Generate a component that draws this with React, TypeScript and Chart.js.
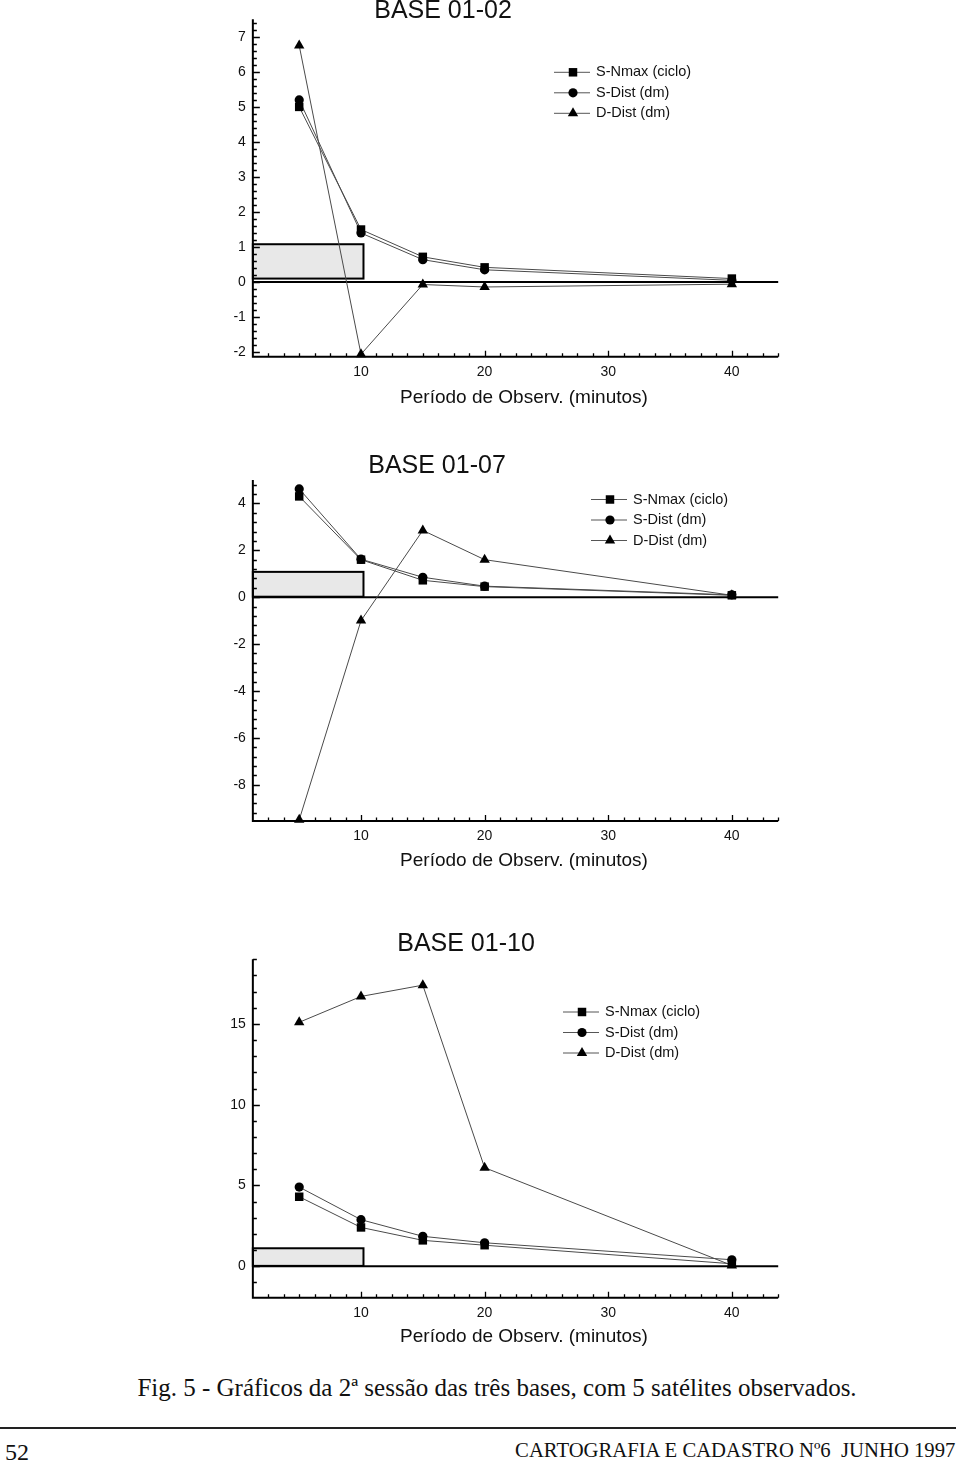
import React, { useEffect, useRef } from 'react';
import { Chart, registerables } from 'chart.js';

Chart.register(...registerables);

// ---------- data ----------
const X_MINUTES = [5, 10, 15, 20, 40];
const X_TICK_LABELS = [10, 20, 30, 40];
const SERIES_NAMES = ['S-Nmax (ciclo)', 'S-Dist (dm)', 'D-Dist (dm)'];
const BOX_X_RANGE = [1.25, 10.2];

const B0102_TITLE = 'BASE 01-02';
const B0102_SNMAX = [5.0, 1.5, 0.72, 0.42, 0.1];
const B0102_SDIST = [5.2, 1.4, 0.64, 0.35, 0.05];
const B0102_DDIST = [6.75, -2.06, -0.07, -0.14, -0.06];
const B0102_Y_TICKS = [-2, -1, 0, 1, 2, 3, 4, 5, 6, 7];
const B0102_BOX_Y = [0.1, 1.08];

const B0107_TITLE = 'BASE 01-07';
const B0107_SNMAX = [4.3, 1.6, 0.72, 0.45, 0.08];
const B0107_SDIST = [4.62, 1.62, 0.85, 0.47, 0.1];
const B0107_DDIST = [-9.5, -1.0, 2.85, 1.6, 0.08];
const B0107_Y_TICKS = [-8, -6, -4, -2, 0, 2, 4];
const B0107_BOX_Y = [0.02, 1.08];

const B0110_TITLE = 'BASE 01-10';
const B0110_SNMAX = [4.3, 2.4, 1.6, 1.3, 0.15];
const B0110_SDIST = [4.9, 2.88, 1.85, 1.45, 0.4];
const B0110_DDIST = [15.1, 16.7, 17.4, 6.1, 0.05];
const B0110_Y_TICKS = [0, 5, 10, 15];
const B0110_BOX_Y = [0.02, 1.11];

const X_AXIS_TITLE = 'Período de Observ. (minutos)';
const CAPTION = 'Fig. 5 - Gráficos da 2ª sessão das três bases, com 5 satélites observados.';
const PAGE_NUMBER = '52';
const FOOTER = 'CARTOGRAFIA E CADASTRO Nº6  JUNHO 1997';

// ---------- layout (page coordinates) ----------
const SANS = '"Liberation Sans", Arial, Helvetica, sans-serif';
const SERIF = '"Liberation Serif", "Times New Roman", serif';
const AREA_LEFT = 252.85;
const AREA_RIGHT = 778.2;
const MARKERS = ['rect', 'circle', 'triangle'];
const MARKER_RADIUS = [6, 4.6, 6];

type Spec = {
  title: string;
  series: number[][];
  yTicks: number[];
  boxY: number[];
  yMin: number;
  yMax: number;
  yMajor: number;
  yMinor: number;
  top: number;
  height: number;
  areaTop: number;
  areaBottom: number;
  titleX: number;
  titleY: number;
  legendX: number;
  legendY: number;
  legendDy: number;
  xTitleY: number;
};

const SPECS: Spec[] = [
  {
    title: B0102_TITLE,
    series: [B0102_SNMAX, B0102_SDIST, B0102_DDIST],
    yTicks: B0102_Y_TICKS,
    boxY: B0102_BOX_Y,
    yMin: -2.13, yMax: 7.5, yMajor: 1, yMinor: 0.2,
    top: 0, height: 420, areaTop: 19.3, areaBottom: 356.7,
    titleX: 443, titleY: 11,
    legendX: 573, legendY: 72.3, legendDy: 20.5,
    xTitleY: 398,
  },
  {
    title: B0107_TITLE,
    series: [B0107_SNMAX, B0107_SDIST, B0107_DDIST],
    yTicks: B0107_Y_TICKS,
    boxY: B0107_BOX_Y,
    yMin: -9.55, yMax: 5.0, yMajor: 2, yMinor: 0.4,
    top: 430, height: 450, areaTop: 480, areaBottom: 821,
    titleX: 437, titleY: 466,
    legendX: 610, legendY: 499.5, legendDy: 20.5,
    xTitleY: 861,
  },
  {
    title: B0110_TITLE,
    series: [B0110_SNMAX, B0110_SDIST, B0110_DDIST],
    yTicks: B0110_Y_TICKS,
    boxY: B0110_BOX_Y,
    yMin: -1.95, yMax: 19, yMajor: 5, yMinor: 1,
    top: 910, height: 450, areaTop: 959.3, areaBottom: 1297.7,
    titleX: 466, titleY: 944,
    legendX: 582, legendY: 1012, legendDy: 20.5,
    xTitleY: 1337,
  },
];

function drawMarker(ctx: CanvasRenderingContext2D, kind: string, x: number, y: number, r: number) {
  ctx.beginPath();
  if (kind === 'rect') {
    const s = r * Math.SQRT1_2;
    ctx.rect(x - s, y - s, 2 * s, 2 * s);
  } else if (kind === 'circle') {
    ctx.arc(x, y, r, 0, Math.PI * 2);
  } else {
    for (let k = 0; k < 3; k++) {
      const a = (k * 2 * Math.PI) / 3;
      const px = x + Math.sin(a) * r;
      const py = y - Math.cos(a) * r;
      if (k === 0) ctx.moveTo(px, py);
      else ctx.lineTo(px, py);
    }
    ctx.closePath();
  }
  ctx.fill();
}

function isMultiple(v: number, step: number) {
  const q = v / step;
  return Math.abs(q - Math.round(q)) < 1e-6;
}

function makePlugin(spec: Spec) {
  return {
    id: 'paperDecor',
    beforeDatasetsDraw(chart: any) {
      const { ctx, chartArea: a, scales } = chart;
      const xs = scales.x;
      const ys = scales.y;
      ctx.save();
      // shaded box
      const bx0 = xs.getPixelForValue(BOX_X_RANGE[0]);
      const bx1 = xs.getPixelForValue(BOX_X_RANGE[1]);
      const by0 = ys.getPixelForValue(spec.boxY[0]);
      const by1 = ys.getPixelForValue(spec.boxY[1]);
      ctx.fillStyle = '#e8e8e8';
      ctx.fillRect(bx0, by1, bx1 - bx0, by0 - by1);
      ctx.strokeStyle = '#000';
      ctx.lineWidth = 2;
      ctx.strokeRect(bx0, by1, bx1 - bx0, by0 - by1);
      // zero line
      const z = ys.getPixelForValue(0);
      ctx.beginPath();
      ctx.moveTo(a.left, z);
      ctx.lineTo(a.right, z);
      ctx.stroke();
      // axes lines
      ctx.lineWidth = 2;
      ctx.beginPath();
      ctx.moveTo(a.left, a.top);
      ctx.lineTo(a.left, a.bottom);
      ctx.lineTo(a.right, a.bottom);
      ctx.stroke();
      // y ticks (inward)
      ctx.lineWidth = 1.3;
      ctx.beginPath();
      const yStart = Math.ceil(spec.yMin / spec.yMinor - 1e-9) * spec.yMinor;
      for (let v = yStart; v <= spec.yMax + 1e-9; v += spec.yMinor) {
        const p = Math.round(ys.getPixelForValue(v)) + 0.5;
        const len = isMultiple(v, spec.yMajor) ? 7 : 4;
        ctx.moveTo(a.left, p);
        ctx.lineTo(a.left + len, p);
      }
      // x ticks (inward)
      for (let v = 2.5; v <= 43.75 + 1e-9; v += 1.25) {
        const p = Math.round(xs.getPixelForValue(v)) + 0.5;
        const len = isMultiple(v, 10) ? 6 : 3.5;
        ctx.moveTo(p, a.bottom);
        ctx.lineTo(p, a.bottom - len);
      }
      ctx.stroke();
      ctx.restore();
    },
    afterDraw(chart: any) {
      const { ctx } = chart;
      const off = spec.top;
      ctx.save();
      ctx.fillStyle = '#111';
      ctx.textBaseline = 'middle';
      // title
      ctx.font = `25px ${SANS}`;
      ctx.textAlign = 'center';
      ctx.fillText(spec.title, spec.titleX, spec.titleY - off);
      // x axis title
      ctx.font = `19px ${SANS}`;
      ctx.fillText(X_AXIS_TITLE, 524, spec.xTitleY - off);
      // legend
      ctx.textAlign = 'left';
      ctx.font = `14.5px ${SANS}`;
      SERIES_NAMES.forEach((name, i) => {
        const ly = spec.legendY + i * spec.legendDy - off;
        ctx.strokeStyle = '#555';
        ctx.lineWidth = 1;
        ctx.beginPath();
        ctx.moveTo(spec.legendX - 19, ly);
        ctx.lineTo(spec.legendX + 17, ly);
        ctx.stroke();
        ctx.fillStyle = '#000';
        drawMarker(ctx, MARKERS[i], spec.legendX, ly, MARKER_RADIUS[i]);
        ctx.fillStyle = '#111';
        ctx.fillText(name, spec.legendX + 23, ly);
      });
      ctx.restore();
    },
  };
}

function BaseChart({ spec }: { spec: Spec }) {
  const ref = useRef<HTMLCanvasElement>(null);
  useEffect(() => {
    const canvas = ref.current!;
    const xAxisHeight = spec.top + spec.height - spec.areaBottom;
    const chart = new Chart(canvas, {
      type: 'line',
      data: {
        datasets: spec.series.map((vals, i) => ({
          label: SERIES_NAMES[i],
          data: X_MINUTES.map((x, k) => ({ x, y: vals[k] })),
          borderColor: '#4a4a4a',
          borderWidth: 1,
          pointStyle: MARKERS[i] as any,
          pointRadius: MARKER_RADIUS[i],
          pointBackgroundColor: '#000',
          pointBorderColor: '#000',
          pointBorderWidth: 0,
          tension: 0,
          clip: false as any,
        })),
      },
      options: {
        animation: false,
        responsive: false,
        maintainAspectRatio: false,
        events: [],
        layout: {
          padding: { top: spec.areaTop - spec.top, left: 0, right: 960 - AREA_RIGHT, bottom: 0 },
        },
        plugins: {
          legend: { display: false },
          tooltip: { enabled: false },
          title: { display: false },
        },
        scales: {
          x: {
            type: 'linear',
            min: 1.25,
            max: 43.75,
            grid: { display: false, drawTicks: false },
            border: { display: false },
            ticks: {
              autoSkip: false,
              maxRotation: 0,
              padding: 7,
              color: '#111',
              font: { family: SANS, size: 14 },
            },
            afterBuildTicks: (s: any) => {
              s.ticks = X_TICK_LABELS.map((v) => ({ value: v }));
            },
            afterFit: (s: any) => {
              s.height = xAxisHeight;
            },
          },
          y: {
            type: 'linear',
            min: spec.yMin,
            max: spec.yMax,
            grid: { display: false, drawTicks: false },
            border: { display: false },
            ticks: {
              autoSkip: false,
              padding: 7,
              color: '#111',
              font: { family: SANS, size: 14 },
            },
            afterBuildTicks: (s: any) => {
              s.ticks = spec.yTicks.map((v) => ({ value: v }));
            },
            afterFit: (s: any) => {
              s.width = AREA_LEFT;
            },
          },
        },
      },
      plugins: [makePlugin(spec)],
    } as any);
    return () => chart.destroy();
  }, [spec]);
  return (
    <canvas
      ref={ref}
      width={960}
      height={spec.height}
      style={{ position: 'absolute', left: 0, top: spec.top, width: 960, height: spec.height }}
    />
  );
}

export default function App() {
  return (
    <div
      style={{
        position: 'absolute',
        left: 0,
        top: 0,
        width: 960,
        height: 1466,
        background: '#fff',
        overflow: 'hidden',
      }}
    >
      {SPECS.map((s) => (
        <BaseChart key={s.title} spec={s} />
      ))}
      <div
        style={{
          position: 'absolute',
          left: 0,
          width: 994,
          top: 1374.6,
          textAlign: 'center',
          font: `25px ${SERIF}`,
          lineHeight: '25px',
          whiteSpace: 'nowrap',
          color: '#111',
        }}
      >
        {CAPTION}
      </div>
      <div
        style={{
          position: 'absolute',
          left: 0,
          top: 1427,
          width: 956,
          height: 2,
          background: '#222',
        }}
      />
      <div
        style={{
          position: 'absolute',
          left: 5,
          top: 1440,
          font: `24px ${SERIF}`,
          lineHeight: '24px',
          whiteSpace: 'nowrap',
          color: '#111',
        }}
      >
        {PAGE_NUMBER}
      </div>
      <div
        style={{
          position: 'absolute',
          right: 5,
          top: 1439.2,
          font: `22px ${SERIF}`,
          lineHeight: '22px',
          whiteSpace: 'pre',
          color: '#111',
          transform: 'scaleX(0.94)',
          transformOrigin: 'right center',
        }}
      >
        {FOOTER}
      </div>
    </div>
  );
}
